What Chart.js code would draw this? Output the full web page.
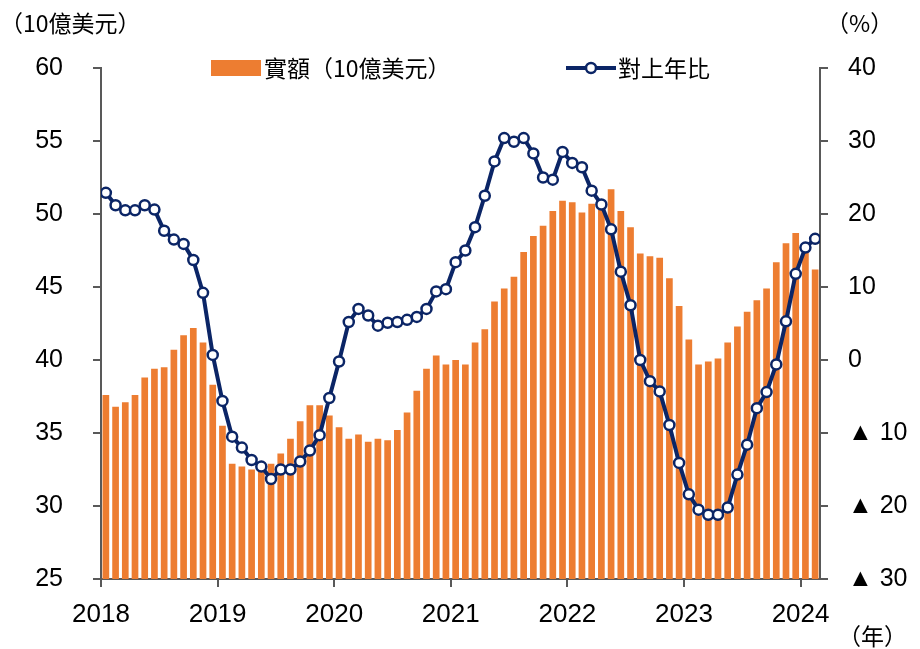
<!DOCTYPE html>
<html>
<head>
<meta charset="utf-8">
<script src="https://cdn.jsdelivr.net/npm/chart.js@4.4.1/dist/chart.umd.min.js"></script>
<style>
  body { margin: 0; background: #fff; }
  canvas { display: block; }
</style>
</head>
<body>
<canvas id="tradeChart" width="920" height="649"></canvas>
<script>
// 月次データ 2018/1 - 2024/2
const years = ['2018', '2019', '2020', '2021', '2022', '2023', '2024'];

const amounts = [
  37.6, 36.8, 37.1, 37.6, 38.8, 39.4, 39.5, 40.7, 41.7, 42.2, 41.2, 38.3,
  35.5, 32.9, 32.7, 32.5, 32.4, 32.9, 33.6, 34.6, 35.8, 36.9, 36.9, 36.2,
  35.4, 34.6, 34.9, 34.4, 34.6, 34.5, 35.2, 36.4, 37.9, 39.4, 40.3, 39.7,
  40.0, 39.7, 41.2, 42.1, 44.0, 44.9, 45.7, 47.4, 48.5, 49.2, 50.2, 50.9,
  50.8, 50.1, 50.7, 50.6, 51.7, 50.2, 49.1, 47.3, 47.1, 47.0, 45.6, 43.7,
  41.4, 39.7, 39.9, 40.1, 41.2, 42.3, 43.3, 44.1, 44.9, 46.7, 48.0, 48.7,
  47.6, 46.2
];

const yoy = [
  22.9, 21.2, 20.5, 20.5, 21.2, 20.6, 17.7, 16.5, 15.9, 13.7, 9.2, 0.7,
  -5.6, -10.5, -12.0, -13.7, -14.6, -16.3, -15.0, -15.0, -13.9, -12.4, -10.3, -5.2,
  -0.2, 5.2, 7.0, 6.1, 4.7, 5.1, 5.2, 5.5, 5.9, 7.0, 9.4, 9.7,
  13.4, 15.0, 18.2, 22.5, 27.2, 30.4, 29.9, 30.4, 28.3, 25.0, 24.7, 28.5,
  27.0, 26.4, 23.2, 21.3, 17.9, 12.1, 7.5, 0.0, -2.9, -4.3, -8.9, -14.1,
  -18.4, -20.5, -21.2, -21.2, -20.2, -15.7, -11.6, -6.6, -4.4, -0.6, 5.3, 11.8,
  15.4, 16.6
];

const leftTicks = [25, 30, 35, 40, 45, 50, 55, 60];
const rightTicks = [-30, -20, -10, 0, 10, 20, 30, 40];

const barLabel = '實額（10億美元）';
const lineLabel = '對上年比';

const ORANGE = '#ED7D31';
const NAVY = '#0B2566';
const AXIS = '#595959';
const numFont = { family: "'Liberation Sans', Arial, sans-serif", size: 25 };
const cjkFont = "'Noto Sans CJK TC', 'Noto Sans CJK JP', sans-serif";

// 凡例と単位表示
const annotations = {
  id: 'annotations',
  afterDraw(chart) {
    const c = chart.ctx;
    c.save();
    c.fillStyle = '#000';
    c.textBaseline = 'middle';
    c.font = `23px ${cjkFont}`;
    c.textAlign = 'left';
    c.fillText('（10億美元）', 0, 23);
    c.fillText('（%）', 826, 23);
    c.fillText('（年）', 838, 636);

    // legend
    c.fillStyle = ORANGE;
    c.fillRect(211, 60, 50, 16);
    c.fillStyle = '#000';
    c.fillText(barLabel, 264, 68);

    c.strokeStyle = NAVY;
    c.lineWidth = 4;
    c.beginPath();
    c.moveTo(566, 68);
    c.lineTo(616, 68);
    c.stroke();
    c.beginPath();
    c.arc(591, 68, 5, 0, Math.PI * 2);
    c.fillStyle = '#fff';
    c.fill();
    c.lineWidth = 2.5;
    c.stroke();
    c.fillStyle = '#000';
    c.fillText(lineLabel, 618, 68);
    c.restore();
  }
};

const ctx = document.getElementById('tradeChart');

new Chart(ctx, {
  type: 'bar',
  data: {
    datasets: [
      {
        type: 'line',
        label: lineLabel,
        data: yoy.map((v, i) => ({ x: i + 0.5, y: v })),
        yAxisID: 'y1',
        borderColor: NAVY,
        borderWidth: 4,
        pointRadius: 5,
        pointBorderWidth: 2.5,
        pointBackgroundColor: '#fff',
        pointBorderColor: NAVY,
        tension: 0,
        order: 0
      },
      {
        label: barLabel,
        data: amounts.map((v, i) => ({ x: i + 0.5, y: v })),
        yAxisID: 'y',
        backgroundColor: ORANGE,
        borderWidth: 0,
        categoryPercentage: 0.8,
        barPercentage: 0.86,
        order: 1
      }
    ]
  },
  options: {
    responsive: false,
    devicePixelRatio: 1,
    animation: false,
    layout: { padding: { top: 68, left: 0, right: 0, bottom: 0 } },
    plugins: {
      legend: { display: false },
      tooltip: { enabled: false }
    },
    scales: {
      x: {
        type: 'linear',
        min: 0,
        max: amounts.length,
        offset: false,
        grid: { offset: false, drawOnChartArea: false, drawTicks: true, tickLength: 8, color: AXIS, lineWidth: 2 },
        border: { display: true, color: AXIS, width: 2 },
        afterBuildTicks: (scale) => {
          scale.ticks = years.map((y, i) => ({ value: i * 12 }));
        },
        afterFit: (scale) => { scale.height = 70; },
        ticks: {
          color: '#000',
          font: { family: numFont.family, size: 26 },
          padding: 12,
          maxRotation: 0,
          autoSkip: false,
          callback: (v, i) => years[i]
        }
      },
      y: {
        position: 'left',
        min: 25,
        max: 60,
        grid: { drawOnChartArea: false, drawTicks: true, tickLength: 8, color: AXIS, lineWidth: 2 },
        border: { display: true, color: AXIS, width: 2 },
        afterBuildTicks: (scale) => {
          scale.ticks = leftTicks.map(v => ({ value: v }));
        },
        afterFit: (scale) => { scale.width = 101; },
        ticks: { color: '#000', font: numFont, padding: 30 }
      },
      y1: {
        position: 'right',
        min: -30,
        max: 40,
        grid: { drawOnChartArea: false, drawTicks: true, tickLength: 8, color: AXIS, lineWidth: 2 },
        border: { display: true, color: AXIS, width: 2 },
        afterBuildTicks: (scale) => {
          scale.ticks = rightTicks.map(v => ({ value: v }));
        },
        afterFit: (scale) => { scale.width = 100; },
        ticks: {
          color: '#000',
          font: numFont,
          padding: 20,
          callback: (v) => v < 0 ? '▲ ' + (-v) : String(v)
        }
      }
    }
  },
  plugins: [annotations]
});
</script>
</body>
</html>
